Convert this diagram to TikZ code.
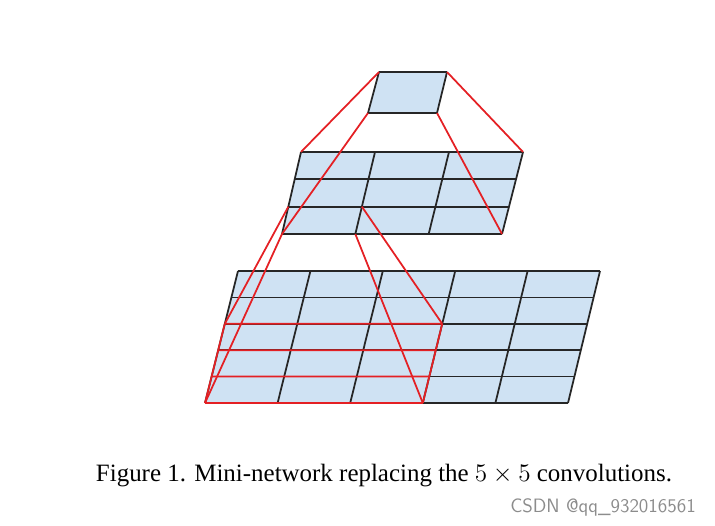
\documentclass[tikz,border=0pt]{standalone}
\usepackage{fontspec}
\setmainfont{Liberation Serif}
\usetikzlibrary{calc}
\definecolor{cellblue}{RGB}{207,226,243}
\definecolor{fieldred}{RGB}{228,32,36}
\tikzset{
  grid line/.style={black!85,line width=1pt},
  field/.style={fieldred,line width=1pt},
}
% corners: prefix, rows, columns
\newcommand{\featuregrid}[3]{%
  \fill [cellblue] (#1TL) -- (#1TR) -- (#1BR) -- (#1BL) -- cycle;
  \foreach \i in {0,...,#2}
    \draw [grid line] ($(#1TL)!\i/#2!(#1BL)$) -- ($(#1TR)!\i/#2!(#1BR)$);
  \foreach \j in {0,...,#3}
    \draw [grid line] ($(#1TL)!\j/#3!(#1TR)$) -- ($(#1BL)!\j/#3!(#1BR)$);
}
\begin{document}
\begin{tikzpicture}[x=0.02cm,y=-0.02cm]
    \useasboundingbox (0,0) rectangle (715,526);

    % corners of the three layers
    \coordinate (tTL) at (379,72);  \coordinate (tTR) at (447,72);
    \coordinate (tBL) at (368,113); \coordinate (tBR) at (437,113);
    \coordinate (mTL) at (301,152); \coordinate (mTR) at (523,152);
    \coordinate (mBL) at (282,234); \coordinate (mBR) at (502,234);
    \coordinate (bTL) at (238,271); \coordinate (bTR) at (600,271);
    \coordinate (bBL) at (205,403); \coordinate (bBR) at (568,403);

    % layers
    \featuregrid{t}{1}{1}
    \featuregrid{m}{3}{3}
    \featuregrid{b}{5}{5}

    % cell of the middle layer seen from below
    \coordinate (cTL) at ($(mTL)!2/3!(mBL)$);
    \coordinate (cBL) at (mBL);
    \coordinate (cTR) at ($(cTL)!1/3!($(mTR)!2/3!(mBR)$)$);
    \coordinate (cBR) at ($(mBL)!1/3!(mBR)$);

    % 3x3 patch of the bottom layer
    \coordinate (pL) at ($(bTL)!2/5!(bBL)$);
    \coordinate (pR) at ($(bTR)!2/5!(bBR)$);
    \coordinate (pTL) at (pL);
    \coordinate (pTR) at ($(pL)!3/5!(pR)$);
    \coordinate (pBL) at (bBL);
    \coordinate (pBR) at ($(bBL)!3/5!(bBR)$);
    \foreach \i in {0,1,2,3}
      \draw [field] ($(pTL)!\i/3!(pBL)$) -- ($(pTR)!\i/3!(pBR)$);
    \draw [field] (pTL) -- (pBL);
    \draw [field] (pTR) -- (pBR);

    % receptive fields
    \draw [field] (tTL) -- (mTL);
    \draw [field] (tTR) -- (mTR);
    \draw [field] (tBL) -- (mBL);
    \draw [field] (tBR) -- (mBR);
    \draw [field] (cTL) -- (pTL);
    \draw [field] (cBL) -- (pBL);
    \draw [field] (cTR) -- (pTR);
    \draw [field] (cBR) -- (pBR);

    % caption
    \node [font=\fontsize{14.2}{17}\selectfont] (caption) at (384,476)
        {Figure 1. Mini-network replacing the $5\times5$ convolutions.};
    \node [font=\sffamily\fontsize{11}{13}\selectfont,text=black!45,anchor=east] (mark) at (702,507)
        {CSDN @qq\_932016561};
\end{tikzpicture}
\end{document}
